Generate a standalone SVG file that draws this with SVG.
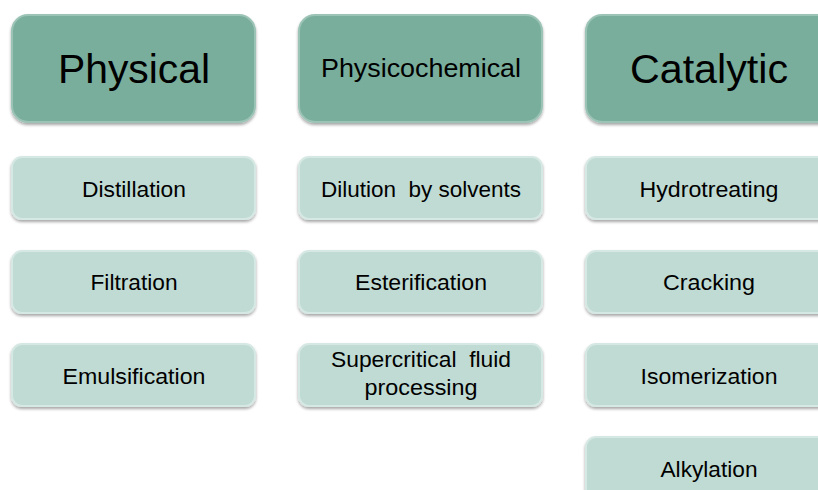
<svg xmlns="http://www.w3.org/2000/svg" width="818" height="490" viewBox="0 0 818 490">
<defs>
<filter id="sh" x="-10%" y="-10%" width="120%" height="130%">
<feGaussianBlur in="SourceAlpha" stdDeviation="1.5"/>
<feOffset dx="0" dy="2"/>
<feComponentTransfer><feFuncA type="linear" slope="0.35"/></feComponentTransfer>
<feMerge><feMergeNode/><feMergeNode in="SourceGraphic"/></feMerge>
</filter>
</defs>
<style>
.h{fill:#7aae9c;stroke:#9cc4b6;stroke-width:2;filter:url(#sh)}
.s{fill:#c0dbd4;stroke:#d6e8e3;stroke-width:2;filter:url(#sh)}
text{font-family:"Liberation Sans",Arial,sans-serif;fill:#000;text-anchor:middle}
.big{font-size:40px}
.mid{font-size:25px}
.sm{font-size:22px}
</style>
<rect width="818" height="490" fill="#fff"/>
<g id="physical"><rect class="h" x="12" y="15" width="243" height="107" rx="16"/><text class="big" x="134" y="83" textLength="152" lengthAdjust="spacingAndGlyphs">Physical</text></g>
<g id="physicochemical"><rect class="h" x="299" y="15" width="243" height="107" rx="16"/><text class="mid" x="421" y="77" textLength="200" lengthAdjust="spacingAndGlyphs">Physicochemical</text></g>
<g id="catalytic"><rect class="h" x="586" y="15" width="250" height="107" rx="16"/><text class="big" x="709" y="83" textLength="158" lengthAdjust="spacingAndGlyphs">Catalytic</text></g>
<g id="distillation"><rect class="s" x="12" y="157" width="243" height="62" rx="10"/><text class="sm" x="134" y="197" textLength="104" lengthAdjust="spacingAndGlyphs">Distillation</text></g>
<g id="filtration"><rect class="s" x="12" y="251" width="243" height="62" rx="10"/><text class="sm" x="134" y="290" textLength="87" lengthAdjust="spacingAndGlyphs">Filtration</text></g>
<g id="emulsification"><rect class="s" x="12" y="344" width="243" height="62" rx="10"/><text class="sm" x="134" y="384" textLength="143" lengthAdjust="spacingAndGlyphs">Emulsification</text></g>
<g id="dilution"><rect class="s" x="299" y="157" width="243" height="62" rx="10"/><text class="sm" x="421" y="197" textLength="200" lengthAdjust="spacingAndGlyphs" xml:space="preserve">Dilution  by solvents</text></g>
<g id="esterification"><rect class="s" x="299" y="251" width="243" height="62" rx="10"/><text class="sm" x="421" y="290" textLength="132" lengthAdjust="spacingAndGlyphs">Esterification</text></g>
<g id="supercritical"><rect class="s" x="299" y="344" width="243" height="62" rx="10"/><text class="sm" x="421" y="367" textLength="180" lengthAdjust="spacingAndGlyphs" xml:space="preserve">Supercritical  fluid</text><text class="sm" x="421" y="395" textLength="113" lengthAdjust="spacingAndGlyphs">processing</text></g>
<g id="hydrotreating"><rect class="s" x="586" y="157" width="250" height="62" rx="10"/><text class="sm" x="709" y="197" textLength="139" lengthAdjust="spacingAndGlyphs">Hydrotreating</text></g>
<g id="cracking"><rect class="s" x="586" y="251" width="250" height="62" rx="10"/><text class="sm" x="709" y="290" textLength="92" lengthAdjust="spacingAndGlyphs">Cracking</text></g>
<g id="isomerization"><rect class="s" x="586" y="344" width="250" height="62" rx="10"/><text class="sm" x="709" y="384" textLength="137" lengthAdjust="spacingAndGlyphs">Isomerization</text></g>
<g id="alkylation"><rect class="s" x="586" y="437" width="250" height="62" rx="10"/><text class="sm" x="709" y="477" textLength="97" lengthAdjust="spacingAndGlyphs">Alkylation</text></g>
<g id="connectors"></g>
</svg>
